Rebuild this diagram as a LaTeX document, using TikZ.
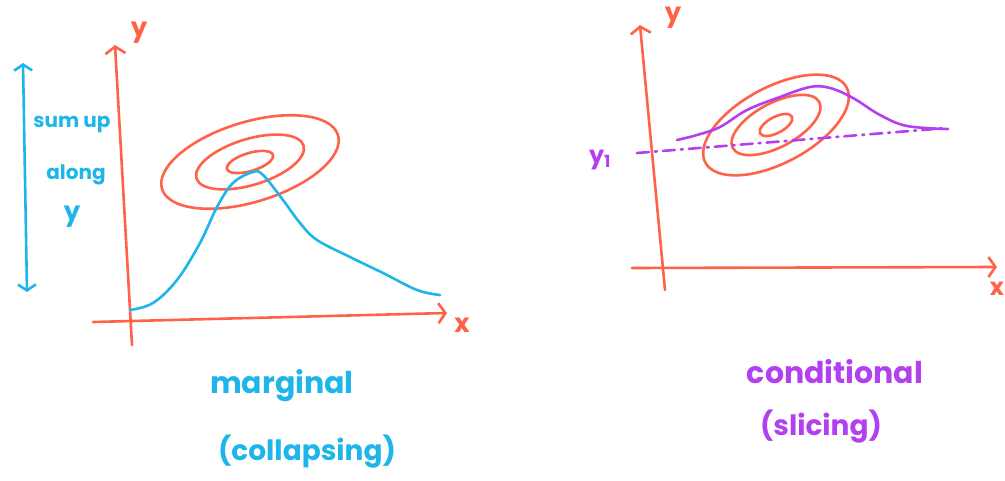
\documentclass[tikz,border=0pt]{standalone}
\usepackage{fontspec}
\setmainfont{Poppins}
\usetikzlibrary{arrows.meta}
\definecolor{penred}{RGB}{255,98,72}
\definecolor{penblue}{RGB}{30,182,232}
\definecolor{penpurple}{RGB}{178,64,240}

\begin{document}
\begin{tikzpicture}[x=1pt,y=-1pt,
  axisline/.style={penred, line width=2.6pt, line cap=round, -{Straight Barb[length=7pt,width=20pt]}},
  contour/.style={penred, line width=2.6pt},
  handtext/.style={inner sep=0pt, font=\fontsize{#1}{#1}\selectfont\bfseries}]
\useasboundingbox (0,0) rectangle (1005,481);
% marginal side
\coordinate (mo) at (132,345);
\coordinate (my) at (115,45);
\coordinate (mxs) at (93,322);
\coordinate (mx) at (447,313);
\draw[axisline] (mo) -- (my);
\draw[axisline] (mxs) -- (mx);
\node[handtext=26, penred] (mylab) at (139,33) {y};
\node[handtext=26, penred] (mxlab) at (462,325) {x};
\coordinate (mc) at (250,162);
\draw[contour, rotate around={17:(mc)}] (mc) ellipse (92 and 40);
\draw[contour, rotate around={17:(mc)}] (mc) ellipse (56 and 23);
\draw[contour, rotate around={17:(mc)}] (mc) ellipse (24 and 9);
\draw[penblue, line width=2.6pt, line cap=round] plot[smooth, tension=0.6] coordinates {
  (130,310) (153,303) (177,280) (200,243) (217,207) (233,183) (253,172) (263,175)
  (283,200) (300,223) (317,240) (350,257) (383,273) (417,290) (440,295)};
\coordinate (sumtop) at (23,63);
\coordinate (sumbot) at (27,292);
\draw[penblue, line width=2.6pt, line cap=round, {Straight Barb[length=6pt,width=18pt]}-{Straight Barb[length=6pt,width=18pt]}] (sumtop) -- (sumbot);
\node[handtext=20, penblue] (sumup) at (72,125) {sum up};
\node[handtext=20, penblue] (along) at (76,175) {along};
\node[handtext=26, penblue] (alongy) at (72,217) {y};
\node[handtext=30, penblue] (marg) at (282,386) {marginal};
\node[handtext=28, penblue] (coll) at (307,452) {(collapsing)};
% conditional side
\coordinate (co) at (665,290);
\coordinate (cy) at (640,25);
\coordinate (cxs) at (632,268);
\coordinate (cx) at (997,267);
\draw[axisline] (co) -- (cy);
\draw[axisline] (cxs) -- (cx);
\node[handtext=26, penred] (cylab) at (673,18) {y};
\node[handtext=24, penred] (cxlab) at (997,289) {x};
\coordinate (cc) at (776,125);
\draw[contour, rotate around={28:(cc)}] (cc) ellipse (80 and 38);
\draw[contour, rotate around={28:(cc)}] (cc) ellipse (49 and 22);
\draw[contour, rotate around={28:(cc)}] (cc) ellipse (18 and 8);
\coordinate (slicel) at (637,153);
\coordinate (slicer) at (947,128);
\draw[penpurple, line width=2.6pt, line cap=round, dash pattern=on 12pt off 6pt on 2pt off 6pt] (slicel) -- (slicer);
\draw[penpurple, line width=2.6pt, line cap=round] plot[smooth, tension=0.6] coordinates {
  (677,140) (697,135) (720,127) (747,110) (780,97) (810,87) (830,88)
  (853,98) (880,115) (907,126) (948,129)};
\node[handtext=24, penpurple] (ysub) at (600,160) {y\textsubscript{1}};
\node[handtext=30, penpurple] (cond) at (835,372) {conditional};
\node[handtext=28, penpurple] (slic) at (821,427) {(slicing)};
\end{tikzpicture}
\end{document}
